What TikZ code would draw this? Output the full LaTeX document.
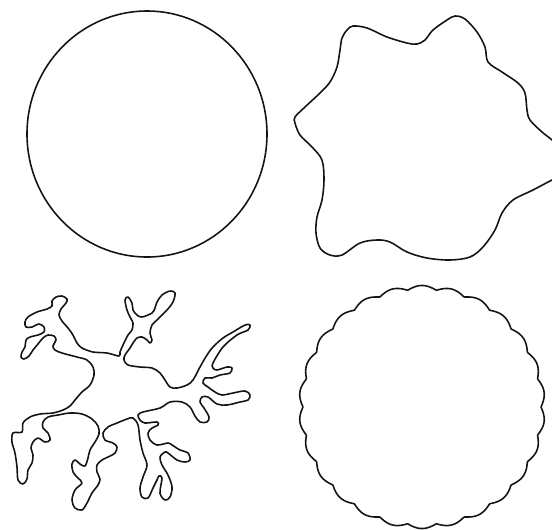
\documentclass[tikz,border=0pt]{standalone}
\usepackage{tikz}
\definecolor{inkline}{RGB}{20,20,20}
\tikzset{
  cellline/.style={draw=inkline, line width=0.9pt, line join=round},
  page/.style={x=0.02cm, y=-0.02cm}
}

\begin{document}
\begin{tikzpicture}[page]
  \useasboundingbox (0,0) rectangle (552,529);
  % Round cell
  \draw[cellline] (147,134) ellipse [x radius=120, y radius=123];
  % Wavy cell (runs off the right edge)
  \begin{scope}
    \clip (0,0) rectangle (552,529);
    \draw[cellline] plot[smooth cycle, tension=0.55] coordinates {
      (295,117) (305,107) (320,93) (330,82) (337,67) (340,50) (342,38)
      (347,30) (353,26) (367,28) (387,37) (407,43) (417,44) (425,40)
      (433,30) (447,20) (455,16) (465,19) (477,32) (485,47) (488,62)
      (502,72) (518,83) (525,93) (527,110) (530,120) (542,132) (552,140)
      (560,150) (562,165) (558,178) (552,180) (533,190) (513,200)
      (502,213) (495,230) (483,247) (470,257) (450,260) (427,258)
      (407,252) (390,242) (377,240) (360,243) (342,255) (330,255)
      (320,248) (316,233) (317,217) (322,200) (324,180) (322,160)
      (312,147) (300,135) (295,123)};
  \end{scope}
  % Branched cell
  \draw[cellline] plot[smooth cycle, tension=0.55] coordinates {
    (119,356) (107,353) (93,352) (82,348) (77,343) (73,335) (68,328)
    (62,321) (59,315) (61,309) (66,303) (67,299) (62,296) (56,297)
    (52,301) (52,306) (47,309) (37,312) (28,317) (25,322) (26,327)
    (32,327) (39,324) (44,327) (44,332) (38,335) (30,337) (26,340)
    (25,347) (22,352) (21,357) (24,359) (29,356) (33,350) (38,344)
    (43,338) (48,335) (54,336) (56,340) (53,346) (55,350) (62,353)
    (77,357) (87,360) (93,367) (94,375) (90,385) (82,392) (75,400)
    (70,406) (63,410) (53,413) (40,414) (30,417) (23,423) (22,432)
    (13,433) (12,442) (15,453) (17,467) (18,480) (23,484) (27,479)
    (28,470) (32,463) (33,455) (31,448) (33,442) (38,438) (45,442)
    (50,440) (48,433) (43,428) (43,422) (48,417) (58,415) (70,413)
    (82,414) (92,419) (98,426) (99,434) (95,442) (90,450) (88,458)
    (85,466) (80,464) (75,460) (72,464) (73,472) (78,478) (82,483)
    (75,490) (72,500) (75,508) (82,510) (87,503) (92,493) (98,485)
    (100,479) (97,472) (97,465) (102,460) (108,457) (115,453) (117,447)
    (113,443) (105,440) (103,433) (108,427) (117,423) (127,419) (133,418)
    (138,425) (140,440) (143,453) (147,465) (143,477) (140,488) (142,497)
    (148,498) (153,488) (157,480) (159,476) (162,478) (160,493) (165,500)
    (170,497) (172,487) (168,475) (162,465) (160,457) (165,452) (168,453)
    (177,460) (185,462) (190,460) (188,453) (180,450) (172,445) (168,443)
    (157,445) (150,440) (148,433) (152,428) (158,425) (157,422) (145,423)
    (140,420) (138,415) (143,412) (160,408) (170,402) (182,402) (190,407)
    (195,416) (200,422) (207,422) (209,417) (204,408) (200,402) (202,397)
    (208,397) (217,404) (227,405) (240,402) (248,400) (250,395) (245,391)
    (233,393) (222,395) (215,392) (208,387) (203,383) (205,378) (212,378)
    (220,375) (230,373) (232,368) (227,367) (217,370) (213,368) (213,363)
    (223,347) (237,335) (248,330) (250,325) (245,325) (233,332) (223,338)
    (213,347) (207,355) (200,367) (193,380) (187,385) (177,388) (170,387)
    (165,380) (160,373) (152,368) (140,367) (128,365) (124,360) (125,355)
    (130,348) (133,343) (137,338) (142,337) (147,340) (150,343) (152,340)
    (150,333) (152,325) (157,320) (162,315) (167,310) (173,302) (175,293)
    (170,291) (162,295) (157,302) (155,308) (152,313) (142,317) (137,315)
    (133,310) (132,303) (128,297) (125,300) (127,310) (130,317) (133,323)
    (132,330) (128,335) (123,345) (120,352)};
  % Scalloped cell
  \draw[cellline] plot[domain=0:360, samples=721, variable=\t]
    ({422+(119+4*abs(sin(13*\t)))*cos(\t)},
     {407+0.988*(119+4*abs(sin(13*\t)))*sin(\t)}) -- cycle;
\end{tikzpicture}
\end{document}
